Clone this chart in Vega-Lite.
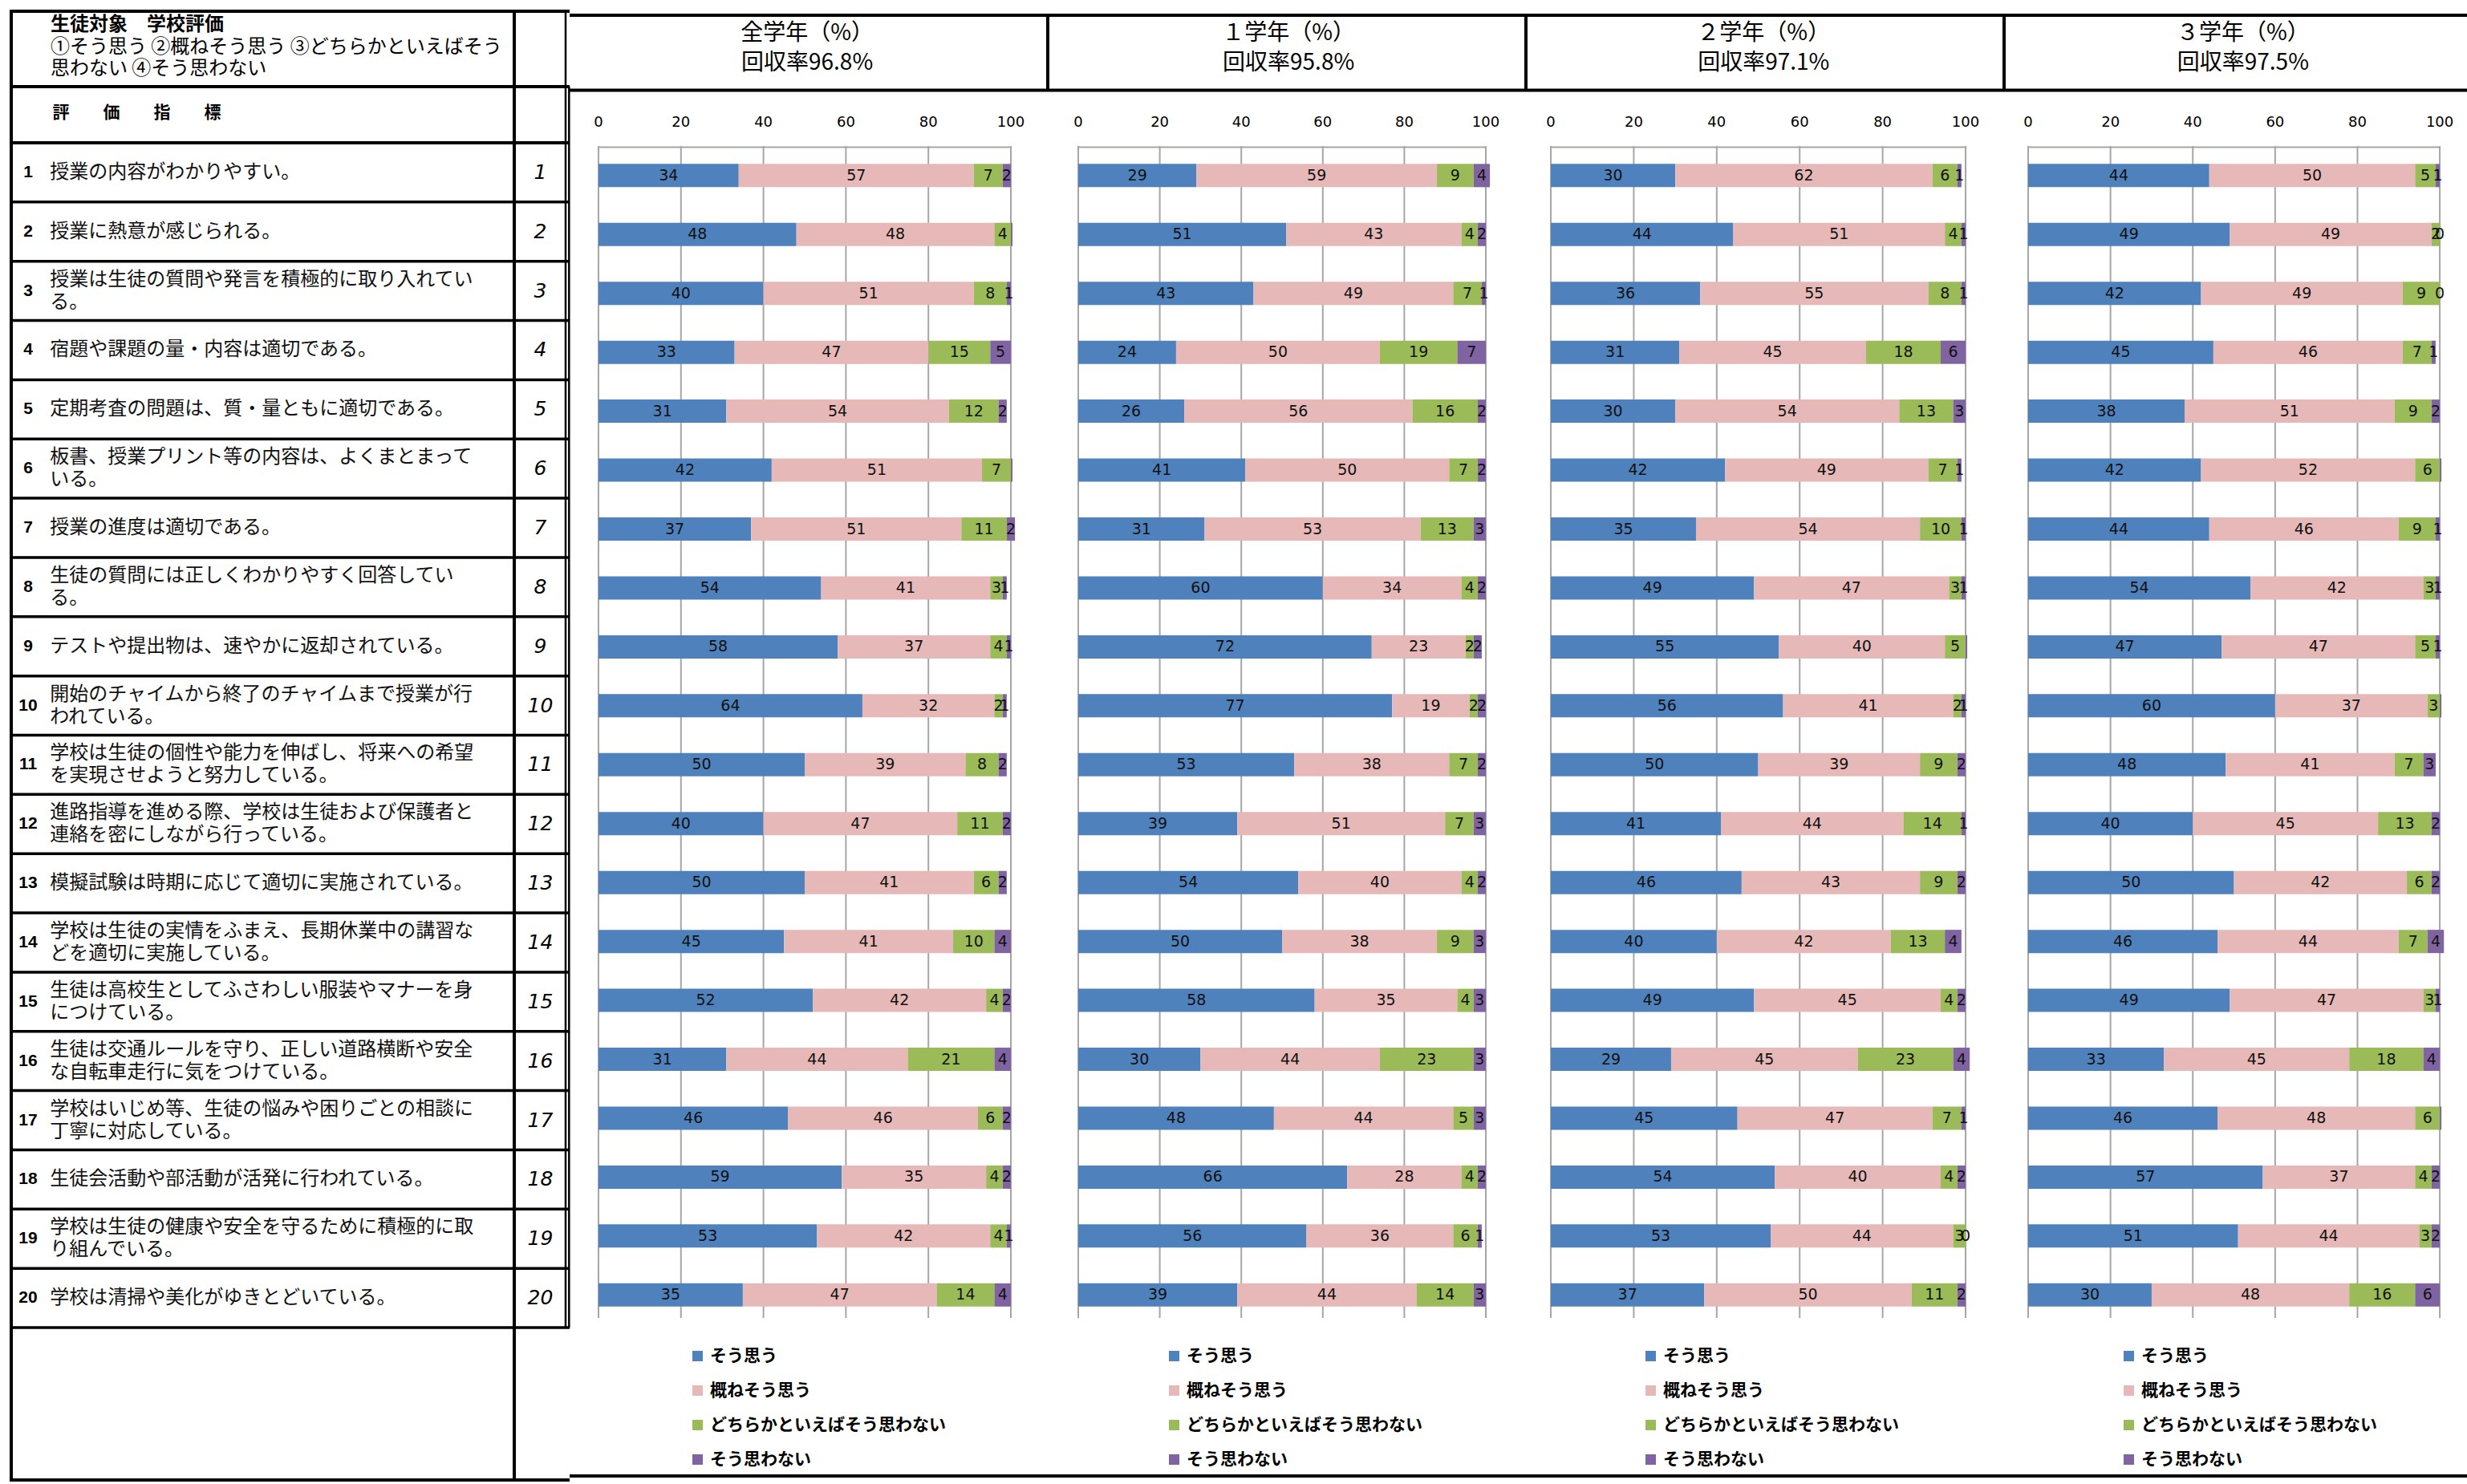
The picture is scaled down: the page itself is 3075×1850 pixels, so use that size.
{
"$schema":"https://vega.github.io/schema/vega-lite/v6.json",
"background":"white",
"padding":{"left":10,"top":10,"right":0,"bottom":5},
"bounds":"flush",
"spacing":0,
"resolve":{"scale":{"x":"independent","y":"independent","color":"independent"},"legend":{"color":"independent"}},
"config":{"view":{"stroke":null},"axis":{"disable":true},"text":{"font":"Noto Sans CJK JP"}},
"datasets":{
"ticks":[{"t":0},{"t":20},{"t":40},{"t":60},{"t":80},{"t":100}],
"qs":[
{"q":1,"t":"授業の内容がわかりやすい。"},
{"q":2,"t":"授業に熱意が感じられる。"},
{"q":3,"t":"授業は生徒の質問や発言を積極的に取り入れてい\nる。"},
{"q":4,"t":"宿題や課題の量・内容は適切である。"},
{"q":5,"t":"定期考査の問題は、質・量ともに適切である。"},
{"q":6,"t":"板書、授業プリント等の内容は、よくまとまって\nいる。"},
{"q":7,"t":"授業の進度は適切である。"},
{"q":8,"t":"生徒の質問には正しくわかりやすく回答してい\nる。"},
{"q":9,"t":"テストや提出物は、速やかに返却されている。"},
{"q":10,"t":"開始のチャイムから終了のチャイムまで授業が行\nわれている。"},
{"q":11,"t":"学校は生徒の個性や能力を伸ばし、将来への希望\nを実現させようと努力している。"},
{"q":12,"t":"進路指導を進める際、学校は生徒および保護者と\n連絡を密にしながら行っている。"},
{"q":13,"t":"模擬試験は時期に応じて適切に実施されている。"},
{"q":14,"t":"学校は生徒の実情をふまえ、長期休業中の講習な\nどを適切に実施している。"},
{"q":15,"t":"生徒は高校生としてふさわしい服装やマナーを身\nにつけている。"},
{"q":16,"t":"生徒は交通ルールを守り、正しい道路横断や安全\nな自転車走行に気をつけている。"},
{"q":17,"t":"学校はいじめ等、生徒の悩みや困りごとの相談に\n丁寧に対応している。"},
{"q":18,"t":"生徒会活動や部活動が活発に行われている。"},
{"q":19,"t":"学校は生徒の健康や安全を守るために積極的に取\nり組んでいる。"},
{"q":20,"t":"学校は清掃や美化がゆきとどいている。"}],
"d":[
{"g":"全学年","q":1,"a":34,"b":57,"c":7,"d":2},
{"g":"全学年","q":2,"a":48,"b":48,"c":4,"d":0.4},
{"g":"全学年","q":3,"a":40,"b":51,"c":8,"d":1},
{"g":"全学年","q":4,"a":33,"b":47,"c":15,"d":5},
{"g":"全学年","q":5,"a":31,"b":54,"c":12,"d":2},
{"g":"全学年","q":6,"a":42,"b":51,"c":7,"d":0.4},
{"g":"全学年","q":7,"a":37,"b":51,"c":11,"d":2},
{"g":"全学年","q":8,"a":54,"b":41,"c":3,"d":1},
{"g":"全学年","q":9,"a":58,"b":37,"c":4,"d":1},
{"g":"全学年","q":10,"a":64,"b":32,"c":2,"d":1},
{"g":"全学年","q":11,"a":50,"b":39,"c":8,"d":2},
{"g":"全学年","q":12,"a":40,"b":47,"c":11,"d":2},
{"g":"全学年","q":13,"a":50,"b":41,"c":6,"d":2},
{"g":"全学年","q":14,"a":45,"b":41,"c":10,"d":4},
{"g":"全学年","q":15,"a":52,"b":42,"c":4,"d":2},
{"g":"全学年","q":16,"a":31,"b":44,"c":21,"d":4},
{"g":"全学年","q":17,"a":46,"b":46,"c":6,"d":2},
{"g":"全学年","q":18,"a":59,"b":35,"c":4,"d":2},
{"g":"全学年","q":19,"a":53,"b":42,"c":4,"d":1},
{"g":"全学年","q":20,"a":35,"b":47,"c":14,"d":4},
{"g":"1学年","q":1,"a":29,"b":59,"c":9,"d":4},
{"g":"1学年","q":2,"a":51,"b":43,"c":4,"d":2},
{"g":"1学年","q":3,"a":43,"b":49,"c":7,"d":1},
{"g":"1学年","q":4,"a":24,"b":50,"c":19,"d":7},
{"g":"1学年","q":5,"a":26,"b":56,"c":16,"d":2},
{"g":"1学年","q":6,"a":41,"b":50,"c":7,"d":2},
{"g":"1学年","q":7,"a":31,"b":53,"c":13,"d":3},
{"g":"1学年","q":8,"a":60,"b":34,"c":4,"d":2},
{"g":"1学年","q":9,"a":72,"b":23,"c":2,"d":2},
{"g":"1学年","q":10,"a":77,"b":19,"c":2,"d":2},
{"g":"1学年","q":11,"a":53,"b":38,"c":7,"d":2},
{"g":"1学年","q":12,"a":39,"b":51,"c":7,"d":3},
{"g":"1学年","q":13,"a":54,"b":40,"c":4,"d":2},
{"g":"1学年","q":14,"a":50,"b":38,"c":9,"d":3},
{"g":"1学年","q":15,"a":58,"b":35,"c":4,"d":3},
{"g":"1学年","q":16,"a":30,"b":44,"c":23,"d":3},
{"g":"1学年","q":17,"a":48,"b":44,"c":5,"d":3},
{"g":"1学年","q":18,"a":66,"b":28,"c":4,"d":2},
{"g":"1学年","q":19,"a":56,"b":36,"c":6,"d":1},
{"g":"1学年","q":20,"a":39,"b":44,"c":14,"d":3},
{"g":"2学年","q":1,"a":30,"b":62,"c":6,"d":1},
{"g":"2学年","q":2,"a":44,"b":51,"c":4,"d":1},
{"g":"2学年","q":3,"a":36,"b":55,"c":8,"d":1},
{"g":"2学年","q":4,"a":31,"b":45,"c":18,"d":6},
{"g":"2学年","q":5,"a":30,"b":54,"c":13,"d":3},
{"g":"2学年","q":6,"a":42,"b":49,"c":7,"d":1},
{"g":"2学年","q":7,"a":35,"b":54,"c":10,"d":1},
{"g":"2学年","q":8,"a":49,"b":47,"c":3,"d":1},
{"g":"2学年","q":9,"a":55,"b":40,"c":5,"d":0.4},
{"g":"2学年","q":10,"a":56,"b":41,"c":2,"d":1},
{"g":"2学年","q":11,"a":50,"b":39,"c":9,"d":2},
{"g":"2学年","q":12,"a":41,"b":44,"c":14,"d":1},
{"g":"2学年","q":13,"a":46,"b":43,"c":9,"d":2},
{"g":"2学年","q":14,"a":40,"b":42,"c":13,"d":4},
{"g":"2学年","q":15,"a":49,"b":45,"c":4,"d":2},
{"g":"2学年","q":16,"a":29,"b":45,"c":23,"d":4},
{"g":"2学年","q":17,"a":45,"b":47,"c":7,"d":1},
{"g":"2学年","q":18,"a":54,"b":40,"c":4,"d":2},
{"g":"2学年","q":19,"a":53,"b":44,"c":3,"d":0},
{"g":"2学年","q":20,"a":37,"b":50,"c":11,"d":2},
{"g":"3学年","q":1,"a":44,"b":50,"c":5,"d":1},
{"g":"3学年","q":2,"a":49,"b":49,"c":2,"d":0},
{"g":"3学年","q":3,"a":42,"b":49,"c":9,"d":0},
{"g":"3学年","q":4,"a":45,"b":46,"c":7,"d":1},
{"g":"3学年","q":5,"a":38,"b":51,"c":9,"d":2},
{"g":"3学年","q":6,"a":42,"b":52,"c":6,"d":0.4},
{"g":"3学年","q":7,"a":44,"b":46,"c":9,"d":1},
{"g":"3学年","q":8,"a":54,"b":42,"c":3,"d":1},
{"g":"3学年","q":9,"a":47,"b":47,"c":5,"d":1},
{"g":"3学年","q":10,"a":60,"b":37,"c":3,"d":0.4},
{"g":"3学年","q":11,"a":48,"b":41,"c":7,"d":3},
{"g":"3学年","q":12,"a":40,"b":45,"c":13,"d":2},
{"g":"3学年","q":13,"a":50,"b":42,"c":6,"d":2},
{"g":"3学年","q":14,"a":46,"b":44,"c":7,"d":4},
{"g":"3学年","q":15,"a":49,"b":47,"c":3,"d":1},
{"g":"3学年","q":16,"a":33,"b":45,"c":18,"d":4},
{"g":"3学年","q":17,"a":46,"b":48,"c":6,"d":0.4},
{"g":"3学年","q":18,"a":57,"b":37,"c":4,"d":2},
{"g":"3学年","q":19,"a":51,"b":44,"c":3,"d":2},
{"g":"3学年","q":20,"a":30,"b":48,"c":16,"d":6}]
},
"hconcat":[
{"width":629,"height":1835,"layer":[
{"data":{"name":"qs"},"mark":{"type":"rule","color":"#000","strokeWidth":3.5,"yOffset":36.925},"encoding":{"y":{"field":"q","type":"quantitative","scale":{"domain":[-1.748,23.1],"reverse":true,"nice":false,"zero":false},"axis":null}}},
{"data":{"values":[{}]},"mark":{"type":"rule","color":"#000","strokeWidth":4},"encoding":{"y":{"datum":-0.448,"type":"quantitative","scale":{"domain":[-1.748,23.1],"reverse":true,"nice":false,"zero":false},"axis":null}}},
{"data":{"values":[{}]},"mark":{"type":"rule","color":"#000","strokeWidth":4},"encoding":{"y":{"datum":0.5,"type":"quantitative","scale":{"domain":[-1.748,23.1],"reverse":true,"nice":false,"zero":false},"axis":null}}},
{"data":{"values":[{}]},"mark":{"type":"rule","color":"#000","strokeWidth":4},"encoding":{"y":{"datum":-1.721,"type":"quantitative","scale":{"domain":[-1.748,23.1],"reverse":true,"nice":false,"zero":false},"axis":null}}},
{"data":{"values":[{}]},"mark":{"type":"rule","color":"#000","strokeWidth":4},"encoding":{"y":{"datum":23.073,"type":"quantitative","scale":{"domain":[-1.748,23.1],"reverse":true,"nice":false,"zero":false},"axis":null}}},
{"data":{"values":[{}]},"mark":{"type":"rule","color":"#000","strokeWidth":4},"encoding":{"x":{"datum":0.32,"type":"quantitative","scale":{"domain":[0,100],"nice":false,"zero":false},"axis":null},"y":{"datum":-1.748,"type":"quantitative","scale":{"domain":[-1.748,23.1],"reverse":true,"nice":false,"zero":false},"axis":null},"y2":{"datum":23.1}}},
{"data":{"values":[{}]},"mark":{"type":"rule","color":"#000","strokeWidth":4},"encoding":{"x":{"datum":100,"type":"quantitative","scale":{"domain":[0,100],"nice":false,"zero":false},"axis":null},"y":{"datum":-1.748,"type":"quantitative","scale":{"domain":[-1.748,23.1],"reverse":true,"nice":false,"zero":false},"axis":null},"y2":{"datum":23.1}}},
{"data":{"values":[{}]},"mark":{"type":"text","text":"生徒対象　学校評価","align":"left","baseline":"middle","fontSize":24,"fontWeight":"bold","color":"#000"},"encoding":{"x":{"datum":8.1,"type":"quantitative","scale":{"domain":[0,100],"nice":false,"zero":false},"axis":null},"y":{"datum":-1.491,"type":"quantitative","scale":{"domain":[-1.748,23.1],"reverse":true,"nice":false,"zero":false},"axis":null}}},
{"data":{"values":[{}]},"mark":{"type":"text","text":"①そう思う ②概ねそう思う ③どちらかといえばそう\n思わない ④そう思わない","lineBreak":"\n","lineHeight":27,"align":"left","baseline":"middle","fontSize":24,"color":"#000"},"encoding":{"x":{"datum":8.1,"type":"quantitative","scale":{"domain":[0,100],"nice":false,"zero":false},"axis":null},"y":{"datum":-1.112,"type":"quantitative","scale":{"domain":[-1.748,23.1],"reverse":true,"nice":false,"zero":false},"axis":null}}},
{"data":{"values":[{}]},"mark":{"type":"text","text":"評　　価　　指　　標","align":"left","baseline":"middle","fontSize":21,"fontWeight":"bold","color":"#000"},"encoding":{"x":{"datum":8.5,"type":"quantitative","scale":{"domain":[0,100],"nice":false,"zero":false},"axis":null},"y":{"datum":0.0,"type":"quantitative","scale":{"domain":[-1.748,23.1],"reverse":true,"nice":false,"zero":false},"axis":null}}},
{"data":{"name":"qs"},"mark":{"type":"text","align":"center","baseline":"middle","font":"Liberation Sans","fontSize":21,"fontWeight":"bold","color":"#000"},"encoding":{"x":{"datum":3.66,"type":"quantitative","scale":{"domain":[0,100],"nice":false,"zero":false},"axis":null},"y":{"field":"q","type":"quantitative","scale":{"domain":[-1.748,23.1],"reverse":true,"nice":false,"zero":false},"axis":null},"text":{"field":"q","type":"quantitative"}}},
{"data":{"name":"qs"},"transform":[{"filter":"indexof(datum.t, '\\n') < 0"}],"mark":{"type":"text","align":"left","baseline":"middle","fontSize":24,"color":"#111"},"encoding":{"x":{"datum":8.0,"type":"quantitative","scale":{"domain":[0,100],"nice":false,"zero":false},"axis":null},"y":{"field":"q","type":"quantitative","scale":{"domain":[-1.748,23.1],"reverse":true,"nice":false,"zero":false},"axis":null},"text":{"field":"t","type":"nominal"}}},
{"data":{"name":"qs"},"transform":[{"filter":"indexof(datum.t, '\\n') >= 0"}],"mark":{"type":"text","align":"left","baseline":"middle","fontSize":24,"lineBreak":"\n","lineHeight":28,"dy":-14,"color":"#111"},"encoding":{"x":{"datum":8.0,"type":"quantitative","scale":{"domain":[0,100],"nice":false,"zero":false},"axis":null},"y":{"field":"q","type":"quantitative","scale":{"domain":[-1.748,23.1],"reverse":true,"nice":false,"zero":false},"axis":null},"text":{"field":"t","type":"nominal"}}}
]},
{"width":69,"height":1835,"layer":[
{"data":{"name":"qs"},"mark":{"type":"rule","color":"#000","strokeWidth":3.5,"yOffset":36.925},"encoding":{"y":{"field":"q","type":"quantitative","scale":{"domain":[-1.748,23.1],"reverse":true,"nice":false,"zero":false},"axis":null}}},
{"data":{"values":[{}]},"mark":{"type":"rule","color":"#000","strokeWidth":4},"encoding":{"y":{"datum":-1.721,"type":"quantitative","scale":{"domain":[-1.748,23.1],"reverse":true,"nice":false,"zero":false},"axis":null}}},
{"data":{"values":[{}]},"mark":{"type":"rule","color":"#000","strokeWidth":4},"encoding":{"y":{"datum":-0.448,"type":"quantitative","scale":{"domain":[-1.748,23.1],"reverse":true,"nice":false,"zero":false},"axis":null}}},
{"data":{"values":[{}]},"mark":{"type":"rule","color":"#000","strokeWidth":4},"encoding":{"y":{"datum":0.5,"type":"quantitative","scale":{"domain":[-1.748,23.1],"reverse":true,"nice":false,"zero":false},"axis":null}}},
{"data":{"values":[{}]},"mark":{"type":"rule","color":"#000","strokeWidth":4},"encoding":{"y":{"datum":23.073,"type":"quantitative","scale":{"domain":[-1.748,23.1],"reverse":true,"nice":false,"zero":false},"axis":null}}},
{"data":{"values":[{}]},"mark":{"type":"rule","color":"#000","strokeWidth":2.5},"encoding":{"x":{"datum":92.75,"type":"quantitative","scale":{"domain":[0,100],"nice":false,"zero":false},"axis":null},"y":{"datum":-1.748,"type":"quantitative","scale":{"domain":[-1.748,23.1],"reverse":true,"nice":false,"zero":false},"axis":null},"y2":{"datum":20.5}}},
{"data":{"values":[{}]},"mark":{"type":"rule","color":"#000","strokeWidth":2.5},"encoding":{"x":{"datum":99,"type":"quantitative","scale":{"domain":[0,100],"nice":false,"zero":false},"axis":null},"y":{"datum":-0.448,"type":"quantitative","scale":{"domain":[-1.748,23.1],"reverse":true,"nice":false,"zero":false},"axis":null},"y2":{"datum":20.5}}},
{"data":{"name":"qs"},"mark":{"type":"text","align":"center","baseline":"middle","font":"DejaVu Sans","fontStyle":"italic","fontSize":25,"fontWeight":300,"color":"#000"},"encoding":{"x":{"datum":47,"type":"quantitative","scale":{"domain":[0,100],"nice":false,"zero":false},"axis":null},"y":{"field":"q","type":"quantitative","scale":{"domain":[-1.748,23.1],"reverse":true,"nice":false,"zero":false},"axis":null},"text":{"field":"q","type":"quantitative"}}}
]},
{"width":596,"height":1835,"layer":[
{"data":{"name":"ticks"},"mark":{"type":"rule","color":"#A6A6A6","strokeWidth":2},"encoding":{"x":{"field":"t","type":"quantitative","scale":{"domain":[-7,108.95],"nice":false,"zero":false},"axis":null},"y":{"datum":0.5,"type":"quantitative","scale":{"domain":[-1.748,23.1],"reverse":true,"nice":false,"zero":false},"axis":null},"y2":{"datum":20.39}}},
{"data":{"values":[{}]},"mark":{"type":"rule","color":"#A6A6A6","strokeWidth":2},"encoding":{"x":{"datum":0,"type":"quantitative","scale":{"domain":[-7,108.95],"nice":false,"zero":false},"axis":null},"x2":{"datum":100},"y":{"datum":0.52,"type":"quantitative","scale":{"domain":[-1.748,23.1],"reverse":true,"nice":false,"zero":false},"axis":null}}},
{"data":{"name":"ticks"},"mark":{"type":"text","font":"DejaVu Sans","fontSize":18,"color":"#000","baseline":"middle"},"encoding":{"x":{"field":"t","type":"quantitative","scale":{"domain":[-7,108.95],"nice":false,"zero":false},"axis":null},"y":{"datum":0.107,"type":"quantitative","scale":{"domain":[-1.748,23.1],"reverse":true,"nice":false,"zero":false},"axis":null},"text":{"field":"t","type":"quantitative"}}},
{"data":{"name":"d"},"transform":[{"filter":"datum.g == '全学年'"},{"fold":["a","b","c","d"],"as":["k","v"]}],"mark":{"type":"bar","orient":"horizontal","size":29},"encoding":{"y":{"field":"q","type":"quantitative","scale":{"domain":[-1.748,23.1],"reverse":true,"nice":false,"zero":false},"axis":null},"x":{"field":"v","type":"quantitative","stack":"zero","scale":{"domain":[-7,108.95],"nice":false,"zero":false},"axis":null},"color":{"field":"k","type":"nominal","scale":{"domain":["a","b","c","d"],"range":["#4F81BD","#E6B9B8","#9BBB59","#8064A2"]},"legend":{"orient":"none","legendX":149,"legendY":1668,"title":null,"direction":"vertical","symbolType":"square","symbolSize":170,"symbolStrokeWidth":0,"labelFont":"Noto Sans CJK JP","labelFontSize":21,"labelFontWeight":"bold","labelColor":"#000","labelLimit":600,"rowPadding":21,"labelOffset":5,"padding":0,"labelExpr":"datum.label == 'a' ? 'そう思う' : datum.label == 'b' ? '概ねそう思う' : datum.label == 'c' ? 'どちらかといえばそう思わない' : 'そう思わない'"}},"order":{"field":"k","type":"ordinal","sort":"ascending"}}},
{"data":{"name":"d"},"transform":[{"filter":"datum.g == '全学年'"},{"fold":["a","b","c","d"],"as":["k","v"]},{"filter":"datum.v >= 0.5 || datum.v == 0"}],"mark":{"type":"text","font":"DejaVu Sans","fontSize":19,"color":"#111","baseline":"middle"},"encoding":{"y":{"field":"q","type":"quantitative","scale":{"domain":[-1.748,23.1],"reverse":true,"nice":false,"zero":false},"axis":null},"x":{"field":"v","type":"quantitative","stack":"zero","bandPosition":0.5,"scale":{"domain":[-7,108.95],"nice":false,"zero":false},"axis":null},"detail":{"field":"k","type":"nominal"},"order":{"field":"k","type":"ordinal","sort":"ascending"},"text":{"field":"v","type":"quantitative"}}},
{"data":{"values":[{}]},"mark":{"type":"rule","color":"#000","strokeWidth":4},"encoding":{"y":{"datum":-1.721,"type":"quantitative","scale":{"domain":[-1.748,23.1],"reverse":true,"nice":false,"zero":false},"axis":null}}},
{"data":{"values":[{}]},"mark":{"type":"rule","color":"#000","strokeWidth":4},"encoding":{"y":{"datum":-0.448,"type":"quantitative","scale":{"domain":[-1.748,23.1],"reverse":true,"nice":false,"zero":false},"axis":null}}},
{"data":{"values":[{}]},"mark":{"type":"rule","color":"#000","strokeWidth":4},"encoding":{"y":{"datum":23.073,"type":"quantitative","scale":{"domain":[-1.748,23.1],"reverse":true,"nice":false,"zero":false},"axis":null}}},
{"data":{"values":[{}]},"mark":{"type":"rule","color":"#000","strokeWidth":4},"encoding":{"x":{"datum":108.95,"type":"quantitative","scale":{"domain":[-7,108.95],"nice":false,"zero":false},"axis":null},"y":{"datum":-1.748,"type":"quantitative","scale":{"domain":[-1.748,23.1],"reverse":true,"nice":false,"zero":false},"axis":null},"y2":{"datum":-0.448}}},
{"data":{"values":[{}]},"mark":{"type":"text","text":"全学年（%）","align":"center","baseline":"middle","fontSize":28,"color":"#000"},"encoding":{"x":{"datum":50.6,"type":"quantitative","scale":{"domain":[-7,108.95],"nice":false,"zero":false},"axis":null},"y":{"datum":-1.41,"type":"quantitative","scale":{"domain":[-1.748,23.1],"reverse":true,"nice":false,"zero":false},"axis":null}}},
{"data":{"values":[{}]},"mark":{"type":"text","text":"回収率96.8%","align":"center","baseline":"middle","fontSize":28,"color":"#000"},"encoding":{"x":{"datum":50.6,"type":"quantitative","scale":{"domain":[-7,108.95],"nice":false,"zero":false},"axis":null},"y":{"datum":-0.908,"type":"quantitative","scale":{"domain":[-1.748,23.1],"reverse":true,"nice":false,"zero":false},"axis":null}}}
]},
{"width":596,"height":1835,"layer":[
{"data":{"name":"ticks"},"mark":{"type":"rule","color":"#A6A6A6","strokeWidth":2},"encoding":{"x":{"field":"t","type":"quantitative","scale":{"domain":[-7.48,109.84],"nice":false,"zero":false},"axis":null},"y":{"datum":0.5,"type":"quantitative","scale":{"domain":[-1.748,23.1],"reverse":true,"nice":false,"zero":false},"axis":null},"y2":{"datum":20.39}}},
{"data":{"values":[{}]},"mark":{"type":"rule","color":"#A6A6A6","strokeWidth":2},"encoding":{"x":{"datum":0,"type":"quantitative","scale":{"domain":[-7.48,109.84],"nice":false,"zero":false},"axis":null},"x2":{"datum":100},"y":{"datum":0.52,"type":"quantitative","scale":{"domain":[-1.748,23.1],"reverse":true,"nice":false,"zero":false},"axis":null}}},
{"data":{"name":"ticks"},"mark":{"type":"text","font":"DejaVu Sans","fontSize":18,"color":"#000","baseline":"middle"},"encoding":{"x":{"field":"t","type":"quantitative","scale":{"domain":[-7.48,109.84],"nice":false,"zero":false},"axis":null},"y":{"datum":0.107,"type":"quantitative","scale":{"domain":[-1.748,23.1],"reverse":true,"nice":false,"zero":false},"axis":null},"text":{"field":"t","type":"quantitative"}}},
{"data":{"name":"d"},"transform":[{"filter":"datum.g == '1学年'"},{"fold":["a","b","c","d"],"as":["k","v"]}],"mark":{"type":"bar","orient":"horizontal","size":29},"encoding":{"y":{"field":"q","type":"quantitative","scale":{"domain":[-1.748,23.1],"reverse":true,"nice":false,"zero":false},"axis":null},"x":{"field":"v","type":"quantitative","stack":"zero","scale":{"domain":[-7.48,109.84],"nice":false,"zero":false},"axis":null},"color":{"field":"k","type":"nominal","scale":{"domain":["a","b","c","d"],"range":["#4F81BD","#E6B9B8","#9BBB59","#8064A2"]},"legend":{"orient":"none","legendX":147,"legendY":1668,"title":null,"direction":"vertical","symbolType":"square","symbolSize":170,"symbolStrokeWidth":0,"labelFont":"Noto Sans CJK JP","labelFontSize":21,"labelFontWeight":"bold","labelColor":"#000","labelLimit":600,"rowPadding":21,"labelOffset":5,"padding":0,"labelExpr":"datum.label == 'a' ? 'そう思う' : datum.label == 'b' ? '概ねそう思う' : datum.label == 'c' ? 'どちらかといえばそう思わない' : 'そう思わない'"}},"order":{"field":"k","type":"ordinal","sort":"ascending"}}},
{"data":{"name":"d"},"transform":[{"filter":"datum.g == '1学年'"},{"fold":["a","b","c","d"],"as":["k","v"]},{"filter":"datum.v >= 0.5 || datum.v == 0"}],"mark":{"type":"text","font":"DejaVu Sans","fontSize":19,"color":"#111","baseline":"middle"},"encoding":{"y":{"field":"q","type":"quantitative","scale":{"domain":[-1.748,23.1],"reverse":true,"nice":false,"zero":false},"axis":null},"x":{"field":"v","type":"quantitative","stack":"zero","bandPosition":0.5,"scale":{"domain":[-7.48,109.84],"nice":false,"zero":false},"axis":null},"detail":{"field":"k","type":"nominal"},"order":{"field":"k","type":"ordinal","sort":"ascending"},"text":{"field":"v","type":"quantitative"}}},
{"data":{"values":[{}]},"mark":{"type":"rule","color":"#000","strokeWidth":4},"encoding":{"y":{"datum":-1.721,"type":"quantitative","scale":{"domain":[-1.748,23.1],"reverse":true,"nice":false,"zero":false},"axis":null}}},
{"data":{"values":[{}]},"mark":{"type":"rule","color":"#000","strokeWidth":4},"encoding":{"y":{"datum":-0.448,"type":"quantitative","scale":{"domain":[-1.748,23.1],"reverse":true,"nice":false,"zero":false},"axis":null}}},
{"data":{"values":[{}]},"mark":{"type":"rule","color":"#000","strokeWidth":4},"encoding":{"y":{"datum":23.073,"type":"quantitative","scale":{"domain":[-1.748,23.1],"reverse":true,"nice":false,"zero":false},"axis":null}}},
{"data":{"values":[{}]},"mark":{"type":"rule","color":"#000","strokeWidth":4},"encoding":{"x":{"datum":109.84,"type":"quantitative","scale":{"domain":[-7.48,109.84],"nice":false,"zero":false},"axis":null},"y":{"datum":-1.748,"type":"quantitative","scale":{"domain":[-1.748,23.1],"reverse":true,"nice":false,"zero":false},"axis":null},"y2":{"datum":-0.448}}},
{"data":{"values":[{}]},"mark":{"type":"text","text":"１学年（%）","align":"center","baseline":"middle","fontSize":28,"color":"#000"},"encoding":{"x":{"datum":51.6,"type":"quantitative","scale":{"domain":[-7.48,109.84],"nice":false,"zero":false},"axis":null},"y":{"datum":-1.41,"type":"quantitative","scale":{"domain":[-1.748,23.1],"reverse":true,"nice":false,"zero":false},"axis":null}}},
{"data":{"values":[{}]},"mark":{"type":"text","text":"回収率95.8%","align":"center","baseline":"middle","fontSize":28,"color":"#000"},"encoding":{"x":{"datum":51.6,"type":"quantitative","scale":{"domain":[-7.48,109.84],"nice":false,"zero":false},"axis":null},"y":{"datum":-0.908,"type":"quantitative","scale":{"domain":[-1.748,23.1],"reverse":true,"nice":false,"zero":false},"axis":null}}}
]},
{"width":596,"height":1835,"layer":[
{"data":{"name":"ticks"},"mark":{"type":"rule","color":"#A6A6A6","strokeWidth":2},"encoding":{"x":{"field":"t","type":"quantitative","scale":{"domain":[-6,109.28],"nice":false,"zero":false},"axis":null},"y":{"datum":0.5,"type":"quantitative","scale":{"domain":[-1.748,23.1],"reverse":true,"nice":false,"zero":false},"axis":null},"y2":{"datum":20.39}}},
{"data":{"values":[{}]},"mark":{"type":"rule","color":"#A6A6A6","strokeWidth":2},"encoding":{"x":{"datum":0,"type":"quantitative","scale":{"domain":[-6,109.28],"nice":false,"zero":false},"axis":null},"x2":{"datum":100},"y":{"datum":0.52,"type":"quantitative","scale":{"domain":[-1.748,23.1],"reverse":true,"nice":false,"zero":false},"axis":null}}},
{"data":{"name":"ticks"},"mark":{"type":"text","font":"DejaVu Sans","fontSize":18,"color":"#000","baseline":"middle"},"encoding":{"x":{"field":"t","type":"quantitative","scale":{"domain":[-6,109.28],"nice":false,"zero":false},"axis":null},"y":{"datum":0.107,"type":"quantitative","scale":{"domain":[-1.748,23.1],"reverse":true,"nice":false,"zero":false},"axis":null},"text":{"field":"t","type":"quantitative"}}},
{"data":{"name":"d"},"transform":[{"filter":"datum.g == '2学年'"},{"fold":["a","b","c","d"],"as":["k","v"]}],"mark":{"type":"bar","orient":"horizontal","size":29},"encoding":{"y":{"field":"q","type":"quantitative","scale":{"domain":[-1.748,23.1],"reverse":true,"nice":false,"zero":false},"axis":null},"x":{"field":"v","type":"quantitative","stack":"zero","scale":{"domain":[-6,109.28],"nice":false,"zero":false},"axis":null},"color":{"field":"k","type":"nominal","scale":{"domain":["a","b","c","d"],"range":["#4F81BD","#E6B9B8","#9BBB59","#8064A2"]},"legend":{"orient":"none","legendX":145,"legendY":1668,"title":null,"direction":"vertical","symbolType":"square","symbolSize":170,"symbolStrokeWidth":0,"labelFont":"Noto Sans CJK JP","labelFontSize":21,"labelFontWeight":"bold","labelColor":"#000","labelLimit":600,"rowPadding":21,"labelOffset":5,"padding":0,"labelExpr":"datum.label == 'a' ? 'そう思う' : datum.label == 'b' ? '概ねそう思う' : datum.label == 'c' ? 'どちらかといえばそう思わない' : 'そう思わない'"}},"order":{"field":"k","type":"ordinal","sort":"ascending"}}},
{"data":{"name":"d"},"transform":[{"filter":"datum.g == '2学年'"},{"fold":["a","b","c","d"],"as":["k","v"]},{"filter":"datum.v >= 0.5 || datum.v == 0"}],"mark":{"type":"text","font":"DejaVu Sans","fontSize":19,"color":"#111","baseline":"middle"},"encoding":{"y":{"field":"q","type":"quantitative","scale":{"domain":[-1.748,23.1],"reverse":true,"nice":false,"zero":false},"axis":null},"x":{"field":"v","type":"quantitative","stack":"zero","bandPosition":0.5,"scale":{"domain":[-6,109.28],"nice":false,"zero":false},"axis":null},"detail":{"field":"k","type":"nominal"},"order":{"field":"k","type":"ordinal","sort":"ascending"},"text":{"field":"v","type":"quantitative"}}},
{"data":{"values":[{}]},"mark":{"type":"rule","color":"#000","strokeWidth":4},"encoding":{"y":{"datum":-1.721,"type":"quantitative","scale":{"domain":[-1.748,23.1],"reverse":true,"nice":false,"zero":false},"axis":null}}},
{"data":{"values":[{}]},"mark":{"type":"rule","color":"#000","strokeWidth":4},"encoding":{"y":{"datum":-0.448,"type":"quantitative","scale":{"domain":[-1.748,23.1],"reverse":true,"nice":false,"zero":false},"axis":null}}},
{"data":{"values":[{}]},"mark":{"type":"rule","color":"#000","strokeWidth":4},"encoding":{"y":{"datum":23.073,"type":"quantitative","scale":{"domain":[-1.748,23.1],"reverse":true,"nice":false,"zero":false},"axis":null}}},
{"data":{"values":[{}]},"mark":{"type":"rule","color":"#000","strokeWidth":4},"encoding":{"x":{"datum":109.28,"type":"quantitative","scale":{"domain":[-6,109.28],"nice":false,"zero":false},"axis":null},"y":{"datum":-1.748,"type":"quantitative","scale":{"domain":[-1.748,23.1],"reverse":true,"nice":false,"zero":false},"axis":null},"y2":{"datum":-0.448}}},
{"data":{"values":[{}]},"mark":{"type":"text","text":"２学年（%）","align":"center","baseline":"middle","fontSize":28,"color":"#000"},"encoding":{"x":{"datum":51.3,"type":"quantitative","scale":{"domain":[-6,109.28],"nice":false,"zero":false},"axis":null},"y":{"datum":-1.41,"type":"quantitative","scale":{"domain":[-1.748,23.1],"reverse":true,"nice":false,"zero":false},"axis":null}}},
{"data":{"values":[{}]},"mark":{"type":"text","text":"回収率97.1%","align":"center","baseline":"middle","fontSize":28,"color":"#000"},"encoding":{"x":{"datum":51.3,"type":"quantitative","scale":{"domain":[-6,109.28],"nice":false,"zero":false},"axis":null},"y":{"datum":-0.908,"type":"quantitative","scale":{"domain":[-1.748,23.1],"reverse":true,"nice":false,"zero":false},"axis":null}}}
]},
{"width":579,"height":1835,"layer":[
{"data":{"name":"ticks"},"mark":{"type":"rule","color":"#A6A6A6","strokeWidth":2},"encoding":{"x":{"field":"t","type":"quantitative","scale":{"domain":[-5.85,107],"nice":false,"zero":false},"axis":null},"y":{"datum":0.5,"type":"quantitative","scale":{"domain":[-1.748,23.1],"reverse":true,"nice":false,"zero":false},"axis":null},"y2":{"datum":20.39}}},
{"data":{"values":[{}]},"mark":{"type":"rule","color":"#A6A6A6","strokeWidth":2},"encoding":{"x":{"datum":0,"type":"quantitative","scale":{"domain":[-5.85,107],"nice":false,"zero":false},"axis":null},"x2":{"datum":100},"y":{"datum":0.52,"type":"quantitative","scale":{"domain":[-1.748,23.1],"reverse":true,"nice":false,"zero":false},"axis":null}}},
{"data":{"name":"ticks"},"mark":{"type":"text","font":"DejaVu Sans","fontSize":18,"color":"#000","baseline":"middle"},"encoding":{"x":{"field":"t","type":"quantitative","scale":{"domain":[-5.85,107],"nice":false,"zero":false},"axis":null},"y":{"datum":0.107,"type":"quantitative","scale":{"domain":[-1.748,23.1],"reverse":true,"nice":false,"zero":false},"axis":null},"text":{"field":"t","type":"quantitative"}}},
{"data":{"name":"d"},"transform":[{"filter":"datum.g == '3学年'"},{"fold":["a","b","c","d"],"as":["k","v"]}],"mark":{"type":"bar","orient":"horizontal","size":29},"encoding":{"y":{"field":"q","type":"quantitative","scale":{"domain":[-1.748,23.1],"reverse":true,"nice":false,"zero":false},"axis":null},"x":{"field":"v","type":"quantitative","stack":"zero","scale":{"domain":[-5.85,107],"nice":false,"zero":false},"axis":null},"color":{"field":"k","type":"nominal","scale":{"domain":["a","b","c","d"],"range":["#4F81BD","#E6B9B8","#9BBB59","#8064A2"]},"legend":{"orient":"none","legendX":145,"legendY":1668,"title":null,"direction":"vertical","symbolType":"square","symbolSize":170,"symbolStrokeWidth":0,"labelFont":"Noto Sans CJK JP","labelFontSize":21,"labelFontWeight":"bold","labelColor":"#000","labelLimit":600,"rowPadding":21,"labelOffset":5,"padding":0,"labelExpr":"datum.label == 'a' ? 'そう思う' : datum.label == 'b' ? '概ねそう思う' : datum.label == 'c' ? 'どちらかといえばそう思わない' : 'そう思わない'"}},"order":{"field":"k","type":"ordinal","sort":"ascending"}}},
{"data":{"name":"d"},"transform":[{"filter":"datum.g == '3学年'"},{"fold":["a","b","c","d"],"as":["k","v"]},{"filter":"datum.v >= 0.5 || datum.v == 0"}],"mark":{"type":"text","font":"DejaVu Sans","fontSize":19,"color":"#111","baseline":"middle"},"encoding":{"y":{"field":"q","type":"quantitative","scale":{"domain":[-1.748,23.1],"reverse":true,"nice":false,"zero":false},"axis":null},"x":{"field":"v","type":"quantitative","stack":"zero","bandPosition":0.5,"scale":{"domain":[-5.85,107],"nice":false,"zero":false},"axis":null},"detail":{"field":"k","type":"nominal"},"order":{"field":"k","type":"ordinal","sort":"ascending"},"text":{"field":"v","type":"quantitative"}}},
{"data":{"values":[{}]},"mark":{"type":"rule","color":"#000","strokeWidth":4},"encoding":{"y":{"datum":-1.721,"type":"quantitative","scale":{"domain":[-1.748,23.1],"reverse":true,"nice":false,"zero":false},"axis":null}}},
{"data":{"values":[{}]},"mark":{"type":"rule","color":"#000","strokeWidth":4},"encoding":{"y":{"datum":-0.448,"type":"quantitative","scale":{"domain":[-1.748,23.1],"reverse":true,"nice":false,"zero":false},"axis":null}}},
{"data":{"values":[{}]},"mark":{"type":"rule","color":"#000","strokeWidth":4},"encoding":{"y":{"datum":23.073,"type":"quantitative","scale":{"domain":[-1.748,23.1],"reverse":true,"nice":false,"zero":false},"axis":null}}},
{"data":{"values":[{}]},"mark":{"type":"text","text":"３学年（%）","align":"center","baseline":"middle","fontSize":28,"color":"#000"},"encoding":{"x":{"datum":52.2,"type":"quantitative","scale":{"domain":[-5.85,107],"nice":false,"zero":false},"axis":null},"y":{"datum":-1.41,"type":"quantitative","scale":{"domain":[-1.748,23.1],"reverse":true,"nice":false,"zero":false},"axis":null}}},
{"data":{"values":[{}]},"mark":{"type":"text","text":"回収率97.5%","align":"center","baseline":"middle","fontSize":28,"color":"#000"},"encoding":{"x":{"datum":52.2,"type":"quantitative","scale":{"domain":[-5.85,107],"nice":false,"zero":false},"axis":null},"y":{"datum":-0.908,"type":"quantitative","scale":{"domain":[-1.748,23.1],"reverse":true,"nice":false,"zero":false},"axis":null}}}
]}
]
}
